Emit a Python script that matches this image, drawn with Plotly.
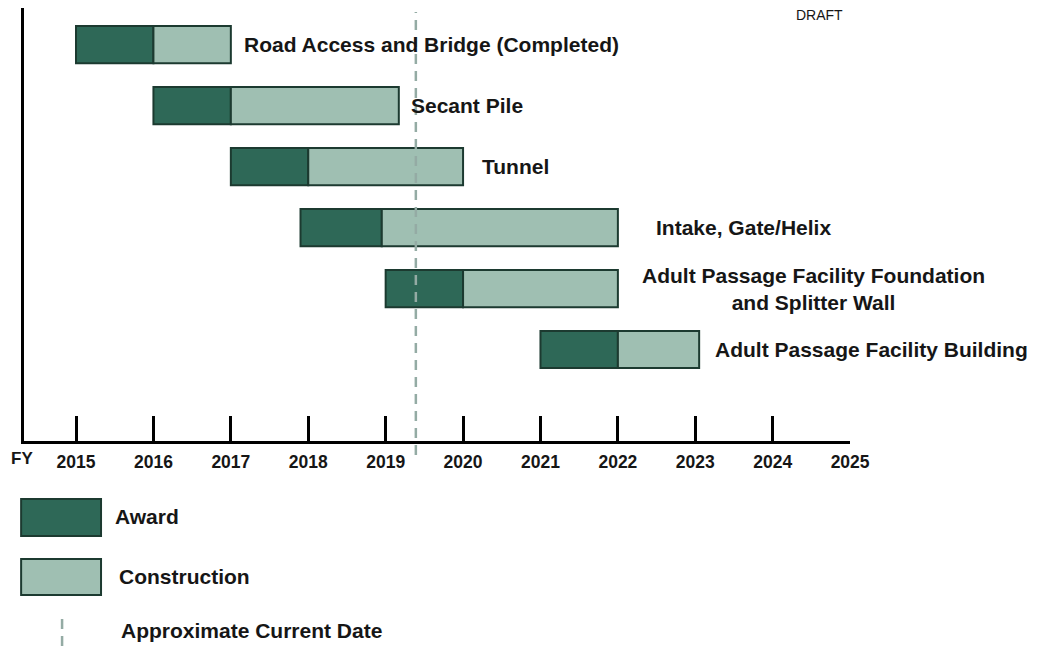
import plotly.graph_objects as go

# ---- data ----
TASKS = ["Road Access and Bridge (Completed)", "Secant Pile", "Tunnel",
         "Intake, Gate/Helix",
         "Adult Passage Facility Foundation<br>and Splitter Wall",
         "Adult Passage Facility Building"]
AWARD_START = [2015.0, 2016.0, 2017.0, 2017.9, 2019.0, 2021.0]
AWARD_END = [2016.0, 2017.0, 2018.0, 2018.95, 2020.0, 2022.0]
CONSTR_END = [2017.0, 2019.17, 2020.0, 2022.0, 2022.0, 2023.05]
CURRENT_DATE = 2019.39
TICK_YEARS = [2015, 2016, 2017, 2018, 2019, 2020, 2021, 2022, 2023, 2024, 2025]
TICK_TEXT = [str(y) for y in TICK_YEARS]
LEGEND_LABELS = ["Award", "Construction", "Approximate Current Date"]

# ---- style ----
OFF = 8                 # page offset of the figure div
SX = 0.982              # horizontal capture scale
FW, FH = 1041, 638      # figure size
AWARD_COLOR = "#2e6857"
CONSTR_COLOR = "#9fbfb2"
EDGE = "#1c3a30"
DASH_COLOR = "#94aba4"
TXT = "#161616"
FONT = "Liberation Sans"
LABEL_XSHIFT = [11, 10, 17, 35, 22, 14]

def px(x):
    return (x / SX - OFF) / FW

def py(y):
    return 1 - (y - OFF) / FH

ypos = list(range(len(TASKS)))
award_len = [e - s for s, e in zip(AWARD_START, AWARD_END)]
constr_len = [e - s for s, e in zip(AWARD_END, CONSTR_END)]

fig = go.Figure()
fig.add_trace(go.Bar(y=ypos, x=award_len, base=AWARD_START, orientation="h",
                     width=0.61, marker=dict(color=AWARD_COLOR, line=dict(color=EDGE, width=2)),
                     showlegend=False, hoverinfo="skip"))
fig.add_trace(go.Bar(y=ypos, x=constr_len, base=AWARD_END, orientation="h",
                     width=0.61, marker=dict(color=CONSTR_COLOR, line=dict(color=EDGE, width=2)),
                     showlegend=False, hoverinfo="skip"))

annotations = []
for i, (t, xe) in enumerate(zip(TASKS, CONSTR_END)):
    annotations.append(dict(x=xe, y=i, xref="x", yref="y", text=t, showarrow=False,
                            xanchor="left", yanchor="middle", xshift=LABEL_XSHIFT[i] / SX,
                            align="center",
                            font=dict(family=FONT, size=21, color=TXT, weight=700)))

annotations.append(dict(x=px(22), y=py(458), xref="paper", yref="paper", text="FY",
                        showarrow=False, xanchor="center", yanchor="middle",
                        font=dict(family=FONT, size=17, color=TXT, weight=700)))
annotations.append(dict(x=px(820), y=1.005, xref="paper", yref="paper", text="DRAFT",
                        showarrow=False, xanchor="center", yanchor="top",
                        font=dict(family=FONT, size=14, color=TXT)))
for txt, lx, ly in zip(LEGEND_LABELS, [113, 117, 119], [516, 576, 630]):
    annotations.append(dict(x=px(lx), y=py(ly), xref="paper", yref="paper", text=txt,
                            showarrow=False, xanchor="left", yanchor="middle",
                            font=dict(family=FONT, size=21, color=TXT, weight=700)))

shapes = [
    dict(type="line", xref="x", yref="paper", x0=CURRENT_DATE, x1=CURRENT_DATE,
         y0=py(455), y1=py(12), layer="above",
         line=dict(color=DASH_COLOR, width=2.5, dash="10px,7px")),
    dict(type="rect", xref="paper", yref="paper", x0=px(21), x1=px(101), y0=py(499), y1=py(536),
         fillcolor=AWARD_COLOR, line=dict(color=EDGE, width=2)),
    dict(type="rect", xref="paper", yref="paper", x0=px(21), x1=px(101), y0=py(559), y1=py(595),
         fillcolor=CONSTR_COLOR, line=dict(color=EDGE, width=2)),
    dict(type="line", xref="paper", yref="paper", x0=px(62), x1=px(62), y0=py(646), y1=py(613),
         line=dict(color=DASH_COLOR, width=2.5, dash="10px,7px")),
]

fig.update_layout(
    width=FW, height=FH, margin=dict(l=0, r=0, t=0, b=0),
    paper_bgcolor="white", plot_bgcolor="white",
    barmode="overlay", showlegend=False,
    annotations=annotations, shapes=shapes,
    xaxis=dict(domain=[px(23.5), px(851)], range=[2014.323, 2025.0],
               showgrid=False, zeroline=False, showline=True, linecolor="black", linewidth=3,
               ticks="inside", ticklen=25, tickwidth=3, tickcolor="black",
               tickvals=TICK_YEARS, ticktext=TICK_TEXT, ticklabelstandoff=3,
               tickfont=dict(family=FONT, size=17.5, color=TXT, weight=700)),
    yaxis=dict(domain=[py(441), py(8)], range=[6.5, -0.6],
               showgrid=False, zeroline=False, showline=True, linecolor="black", linewidth=3,
               showticklabels=False, ticks=""),
)

fig.write_html("out.html")
